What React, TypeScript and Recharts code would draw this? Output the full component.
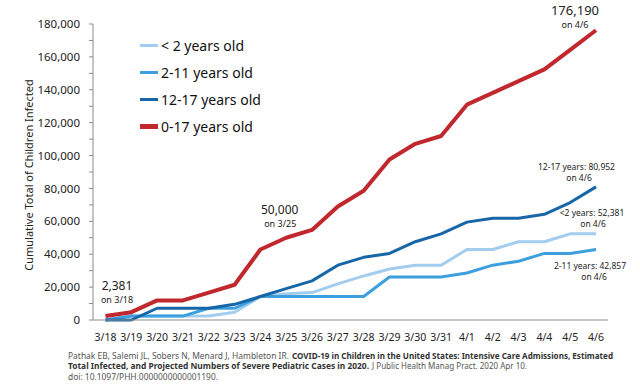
import React from 'react';
import { LineChart, Line, XAxis, YAxis, LabelList } from 'recharts';

const dates = ['3/18', '3/19', '3/20', '3/21', '3/22', '3/23', '3/24', '3/25', '3/26', '3/27', '3/28', '3/29', '3/30', '3/31', '4/1', '4/2', '4/3', '4/4', '4/5', '4/6'];
const under2 = [0, 2381, 2381, 2381, 2381, 4762, 14286, 16000, 16667, 22000, 26800, 31000, 33333, 33333, 42857, 42857, 47619, 47619, 52381, 52381];
const age2to11 = [0, 2381, 2381, 2381, 7143, 7143, 14286, 14286, 14286, 14286, 14286, 26190, 26190, 26190, 28571, 33333, 35714, 40476, 40476, 42857];
const age12to17 = [0, 0, 7143, 7143, 7143, 9524, 14286, 19048, 23810, 33333, 38095, 40476, 47619, 52381, 59524, 61905, 61905, 64286, 71429, 80952];
const age0to17 = [2381, 4762, 11905, 11905, 16667, 21429, 42857, 50000, 54762, 69048, 78571, 97619, 107143, 111905, 130952, 138095, 145238, 152381, 164286, 176190];
const yTicks = [0, 10000, 20000, 30000, 40000, 50000, 60000, 70000, 80000, 90000, 100000, 110000, 120000, 130000, 140000, 150000, 160000, 170000, 180000];

const data = dates.map((d, i) => ({
  date: d,
  under2: under2[i],
  age2to11: age2to11[i],
  age12to17: age12to17[i],
  age0to17: age0to17[i],
}));

const series = [
  { key: 'under2', name: '< 2 years old', color: '#a3cdee', width: 3, legendWidth: 3 },
  { key: 'age2to11', name: '2-11 years old', color: '#3d9fde', width: 3, legendWidth: 3.5 },
  { key: 'age12to17', name: '12-17 years old', color: '#1766a8', width: 3, legendWidth: 3.5 },
  { key: 'age0to17', name: '0-17 years old', color: '#c1282e', width: 4, legendWidth: 5 },
];

const FONT = '"Noto Sans", "Open Sans", sans-serif';
const last = dates.length - 1;

const fmt = (v: number) => v.toLocaleString('en-US');

const Txt = ({ x, y, size, children, weight }: any) => (
  <text x={x} y={y} fontSize={size} fontFamily={FONT} fill="#222" textAnchor="middle" dominantBaseline="middle" fontWeight={weight || 400}>
    {children}
  </text>
);

const redLabel = (p: any) => {
  const { x, y, index } = p;
  if (index === 0) {
    return (
      <g>
        <Txt x={x + 11.5} y={y - 29} size={12}>{fmt(age0to17[0])}</Txt>
        <Txt x={x + 11.5} y={y - 15} size={9}>on {dates[0]}</Txt>
      </g>
    );
  }
  if (index === 7) {
    return (
      <g>
        <Txt x={x - 6.5} y={y - 27} size={12}>{fmt(age0to17[7])}</Txt>
        <Txt x={x - 6} y={y - 13.3} size={9}>on {dates[7]}</Txt>
      </g>
    );
  }
  if (index === last) {
    return (
      <g>
        <Txt x={x - 21} y={y - 19} size={13}>{fmt(age0to17[last])}</Txt>
        <Txt x={x - 21} y={y - 5} size={9}>on {dates[last]}</Txt>
      </g>
    );
  }
  return null;
};

const endLabel = (prefix: string, values: number[], d1: number, d2: number, dx1: number, dx2: number) => (p: any) => {
  const { x, y, index } = p;
  if (index !== last) return null;
  return (
    <g>
      <Txt x={x + dx1} y={y + d1} size={8.5}>{prefix}: {fmt(values[last])}</Txt>
      <Txt x={x + dx2} y={y + d2} size={8.5}>on {dates[last]}</Txt>
    </g>
  );
};

const labelFor: Record<string, any> = {
  under2: endLabel('<2 years', under2, -20, -9.5, -4, -3),
  age2to11: endLabel('2-11 years', age2to11, 17, 28, -6, -2),
  age12to17: endLabel('12-17 years', age12to17, -19, -8, -19.5, -17),
  age0to17: redLabel,
};

const YLabel = () => (
  <text x={30} y={175} transform="rotate(-90 30 175)" textAnchor="middle" dominantBaseline="middle" fontSize={11} fontFamily={FONT} fill="#222">
    Cumulative Total of Children Infected
  </text>
);

const citeParts = [
  { text: 'Pathak EB, Salemi JL, Sobers N, Menard J, Hambleton IR.', x: 68, y: 356.5, w: 221, bold: false },
  { text: 'COVID-19 in Children in the United States: Intensive Care Admissions, Estimated', x: 292, y: 356.5, w: 321, bold: true },
  { text: 'Total Infected, and Projected Numbers of Severe Pediatric Cases in 2020.', x: 68, y: 367, w: 301, bold: true },
  { text: 'J Public Health Manag Pract. 2020 Apr 10.', x: 372, y: 367, w: 155, bold: false },
  { text: 'doi: 10.1097/PHH.0000000000001190.', x: 68, y: 378, w: 150, bold: false },
];

export default function App() {
  return (
    <div style={{ position: 'relative', width: 640, height: 392, background: '#fff', overflow: 'hidden' }}>
      <style>{'body{margin:0;}'}</style>
      <LineChart width={640} height={392} data={data} margin={{ top: 24, right: 32, bottom: 42, left: 0 }}>
        <XAxis
          dataKey="date"
          padding={{ left: 12.5, right: 12 }}
          height={30}
          tickLine={false}
          axisLine={{ stroke: '#8a8a8a', strokeWidth: 1 }}
          tick={{ fontSize: 10.5, fontFamily: FONT, fill: '#222' }}
          tickMargin={8}
          interval={0}
        />
        <YAxis
          width={93}
          domain={[0, 180000]}
          ticks={yTicks}
          interval={0}
          tickSize={4}
          tickMargin={9}
          tickLine={{ stroke: '#8a8a8a' }}
          axisLine={{ stroke: '#8a8a8a', strokeWidth: 1 }}
          tick={{ fontSize: 11.5, fontFamily: FONT, fill: '#222' }}
          tickFormatter={(v: number) => (v % 20000 === 0 ? fmt(v) : '')}
          label={<YLabel />}
        />
        {series.map((s) => (
          <Line
            key={s.key}
            type="linear"
            dataKey={s.key}
            name={s.name}
            stroke={s.color}
            strokeWidth={s.width}
            dot={false}
            activeDot={false}
            isAnimationActive={false}
            strokeLinejoin="round"
          >
            <LabelList dataKey={s.key} content={labelFor[s.key]} />
          </Line>
        ))}
      </LineChart>
      <div style={{ position: 'absolute', left: 140, top: 32, fontFamily: FONT, fontSize: 14, color: '#111', lineHeight: '27px' }}>
        {series.map((s) => (
          <div key={s.key} style={{ display: 'flex', alignItems: 'center', height: 27 }}>
            <div style={{ width: 18, height: s.legendWidth, background: s.color, marginRight: 3 }} />
            <span>{s.name}</span>
          </div>
        ))}
      </div>
      <svg width={640} height={392} style={{ position: 'absolute', left: 0, top: 0, pointerEvents: 'none' }}>
        {citeParts.map((c, i) => (
          <text
            key={i}
            x={c.x}
            y={c.y}
            fontSize={8.5}
            fontFamily={FONT}
            fill={c.bold ? '#333' : '#555'}
            fontWeight={c.bold ? 700 : 400}
            dominantBaseline="middle"
            textLength={c.w}
            lengthAdjust="spacingAndGlyphs"
          >
            {c.text}
          </text>
        ))}
      </svg>
    </div>
  );
}
